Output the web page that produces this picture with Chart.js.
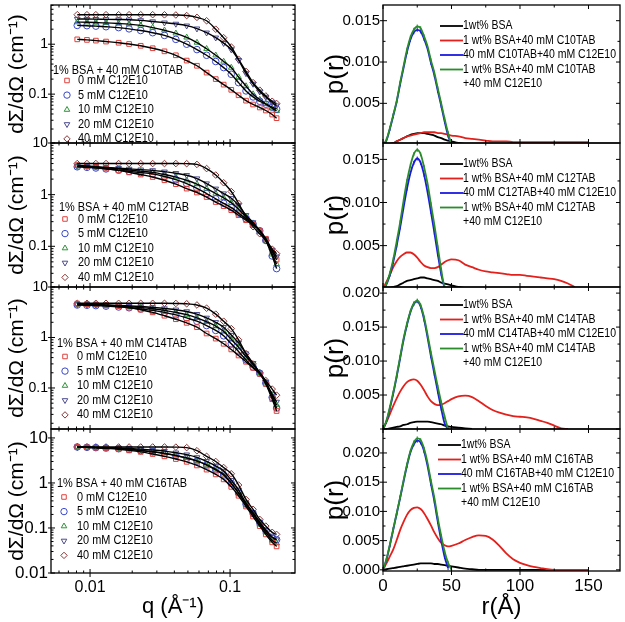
<!DOCTYPE html>
<html>
<head>
<meta charset="utf-8">
<title>SANS curves and p(r)</title>
<script src="https://cdn.jsdelivr.net/npm/chart.js@4.4.0/dist/chart.umd.min.js"></script>
<style>
  body { margin: 0; background: #fff; }
  #wrap { position: relative; width: 625px; height: 622px; overflow: hidden; background: #fff; }
  #wrap canvas { position: absolute; }
</style>
</head>
<body>
<div id="wrap"></div>
<script>
'use strict';

// ***** DATA: SCATTERING CURVES (left column) *****
let qValues = [0.0081, 0.0095, 0.011, 0.013, 0.016, 0.019, 0.023, 0.028, 0.034, 0.041, 0.049, 0.058,
  0.068, 0.079, 0.09, 0.102, 0.115, 0.13, 0.146, 0.163, 0.18, 0.2, 0.215];

let c10_0mM = [1.25, 1.22, 1.18, 1.13, 1.07, 1.01, 0.93, 0.83, 0.72, 0.6, 0.47, 0.37, 0.27, 0.2, 0.155, 0.122, 0.095, 0.074, 0.062, 0.054, 0.047, 0.039, 0.033];
let c10_5mM = [2.38, 2.35, 2.3, 2.24, 2.15, 2.03, 1.88, 1.7, 1.5, 1.25, 1.0, 0.78, 0.6, 0.45, 0.34, 0.25, 0.17, 0.116, 0.088, 0.072, 0.063, 0.055, 0.05];
let c10_10mM = [2.77, 2.75, 2.72, 2.68, 2.6, 2.52, 2.38, 2.15, 1.9, 1.65, 1.37, 1.08, 0.81, 0.6, 0.45, 0.34, 0.22, 0.145, 0.1, 0.078, 0.064, 0.052, 0.046];
let c10_20mM = [3.2, 3.2, 3.18, 3.15, 3.12, 3.1, 3.0, 2.85, 2.7, 2.55, 2.35, 2.05, 1.7, 1.35, 1.05, 0.78, 0.48, 0.26, 0.16, 0.112, 0.088, 0.068, 0.059];
let c10_40mM = [3.9, 3.9, 3.9, 3.9, 3.9, 3.9, 3.9, 3.9, 3.88, 3.85, 3.75, 3.45, 2.95, 2.0, 1.35, 0.88, 0.5, 0.285, 0.17, 0.12, 0.092, 0.072, 0.065];

let c12_0mM = [3.73, 3.6, 3.45, 3.2, 2.95, 2.7, 2.45, 2.2, 1.9, 1.6, 1.31, 1.1, 0.9, 0.72, 0.6, 0.5, 0.4, 0.32, 0.26, 0.2, 0.14, 0.08, 0.055];
let c12_5mM = [3.46, 3.38, 3.28, 3.15, 2.98, 2.82, 2.68, 2.52, 2.25, 1.95, 1.64, 1.33, 1.05, 0.83, 0.68, 0.56, 0.44, 0.34, 0.27, 0.2, 0.13, 0.065, 0.037];
let c12_10mM = [3.56, 3.5, 3.42, 3.3, 3.15, 3.0, 2.85, 2.7, 2.45, 2.18, 1.9, 1.6, 1.31, 1.05, 0.87, 0.7, 0.52, 0.37, 0.28, 0.2, 0.13, 0.07, 0.045];
let c12_20mM = [3.56, 3.52, 3.45, 3.37, 3.25, 3.15, 3.05, 2.95, 2.78, 2.6, 2.38, 2.05, 1.64, 1.3, 1.05, 0.85, 0.62, 0.4, 0.29, 0.2, 0.14, 0.085, 0.063];
let c12_40mM = [4.0, 4.0, 4.0, 4.0, 4.0, 4.0, 4.0, 4.0, 4.0, 4.0, 3.98, 3.85, 3.2, 2.4, 1.7, 1.15, 0.68, 0.37, 0.24, 0.175, 0.13, 0.088, 0.072];

let c14_0mM = [4.7, 4.6, 4.5, 4.35, 4.15, 3.9, 3.55, 3.15, 2.7, 2.3, 1.95, 1.6, 1.2, 0.95, 0.75, 0.58, 0.44, 0.33, 0.25, 0.19, 0.12, 0.06, 0.035];
let c14_5mM = [4.4, 4.35, 4.28, 4.18, 4.02, 3.88, 3.68, 3.45, 3.15, 2.8, 2.44, 2.1, 1.72, 1.38, 1.08, 0.75, 0.53, 0.36, 0.26, 0.195, 0.125, 0.065, 0.04];
let c14_10mM = [4.5, 4.45, 4.4, 4.32, 4.2, 4.05, 3.9, 3.7, 3.45, 3.15, 2.83, 2.45, 2.05, 1.68, 1.32, 0.92, 0.64, 0.42, 0.29, 0.2, 0.13, 0.07, 0.046];
let c14_20mM = [4.5, 4.48, 4.45, 4.4, 4.32, 4.22, 4.1, 3.95, 3.75, 3.55, 3.28, 2.9, 2.45, 2.0, 1.6, 1.12, 0.78, 0.48, 0.31, 0.2, 0.13, 0.075, 0.053];
let c14_40mM = [4.75, 4.75, 4.75, 4.75, 4.75, 4.75, 4.75, 4.75, 4.75, 4.72, 4.65, 4.4, 3.8, 2.9, 2.1, 1.5, 0.9, 0.48, 0.3, 0.2, 0.14, 0.095, 0.072];

let c16_0mM = [6.3, 6.2, 6.05, 5.85, 5.6, 5.3, 4.9, 4.4, 3.9, 3.4, 2.95, 2.45, 1.98, 1.55, 1.2, 0.82, 0.52, 0.3, 0.18, 0.11, 0.072, 0.048, 0.039];
let c16_5mM = [6.3, 6.2, 6.1, 5.98, 5.78, 5.55, 5.25, 4.9, 4.5, 4.05, 3.55, 3.05, 2.5, 1.95, 1.5, 0.98, 0.6, 0.34, 0.21, 0.13, 0.088, 0.062, 0.055];
let c16_10mM = [6.3, 6.2, 6.1, 6.0, 5.8, 5.6, 5.3, 4.95, 4.55, 4.1, 3.6, 3.1, 2.56, 2.0, 1.55, 0.98, 0.6, 0.33, 0.2, 0.12, 0.08, 0.053, 0.046];
let c16_20mM = [6.3, 6.25, 6.2, 6.1, 6.0, 5.85, 5.65, 5.4, 5.1, 4.7, 4.26, 3.7, 3.03, 2.4, 1.85, 1.15, 0.7, 0.36, 0.22, 0.135, 0.09, 0.062, 0.055];
let c16_40mM = [6.3, 6.3, 6.3, 6.3, 6.3, 6.3, 6.3, 6.3, 6.3, 6.25, 6.1, 5.2, 3.9, 3.0, 2.2, 1.6, 0.9, 0.43, 0.26, 0.155, 0.11, 0.08, 0.072];

// ***** DATA: PAIR DISTANCE FUNCTIONS (right column) *****
let rValues = [0, 2.5, 5, 7.5, 10, 12.5, 15, 17.5, 20, 22.5, 25, 27.5, 30, 32.5, 35, 37.5, 40, 42.5, 45, 47.5, 50,
  55, 60, 65, 70, 75, 80, 85, 90, 95, 100, 105, 110, 115, 120, 125, 130, 135, 140, 145, 150];

let bsaC10 = [0, 0, 0.0001, 0.0002, 0.0004, 0.0006, 0.0008, 0.001, 0.0012, 0.0013, 0.0014, 0.0014, 0.0014, 0.0013, 0.0012, 0.0011, 0.0009, 0.0008, 0.0006, 0.0005, 0.0004, 0.0002, 0.0001, 0];
let surfC10 = [0, 0, 0.0001, 0.0002, 0.0004, 0.0006, 0.0008, 0.001, 0.0011, 0.0012, 0.0013, 0.0014, 0.0015, 0.0015, 0.0015, 0.0015, 0.0014, 0.0014, 0.0013, 0.0012, 0.0011,
  0.001, 0.0008, 0.0007, 0.0006, 0.0005, 0.0004, 0.0004, 0.0004, 0.0003, 0.0003, 0.0003, 0.0003, 0.0003, 0.0003, 0.0003, 0.0003, 0.0003, 0.0003, 0.0003, 0.0003];
let mixC10 = [0, 0.0005, 0.0019, 0.0035, 0.0052, 0.0073, 0.0093, 0.0112, 0.0127, 0.0136, 0.0139, 0.0137, 0.0128, 0.0116, 0.0099, 0.0084, 0.0065, 0.0047, 0.0028, 0.0011, 0];
let allC10 = [0, 0.0006, 0.002, 0.0036, 0.0053, 0.0075, 0.0095, 0.0115, 0.013, 0.0139, 0.0143, 0.0141, 0.0131, 0.0119, 0.0102, 0.0087, 0.0068, 0.005, 0.0031, 0.0014, 0];

let bsaC12 = [0, 0, 0.0001, 0.0002, 0.0003, 0.0005, 0.0007, 0.0009, 0.001, 0.0011, 0.0012, 0.0013, 0.0013, 0.0012, 0.0011, 0.001, 0.0009, 0.0007, 0.0006, 0.0005, 0.0004, 0.0002, 0.0001, 0];
let surfC12 = [0, 0.0008, 0.0016, 0.0025, 0.0032, 0.0037, 0.004, 0.0042, 0.0042, 0.004, 0.0036, 0.0031, 0.0027, 0.0025, 0.0024, 0.0024, 0.0025, 0.0028, 0.0031, 0.0033, 0.0034,
  0.0033, 0.0028, 0.0025, 0.0022, 0.002, 0.0019, 0.0018, 0.0017, 0.0016, 0.0016, 0.0015, 0.0014, 0.0013, 0.0012, 0.0011, 0.0009, 0.0006, 0.0002];
let mixC12 = [0, 0.0005, 0.0016, 0.0031, 0.005, 0.0071, 0.0094, 0.0116, 0.0134, 0.0146, 0.0151, 0.0146, 0.0132, 0.0112, 0.0089, 0.0065, 0.004, 0.0017, 0];
let allC12 = [0, 0.0006, 0.0018, 0.0034, 0.0055, 0.0077, 0.0102, 0.0125, 0.0143, 0.0156, 0.0161, 0.0156, 0.0141, 0.0122, 0.0098, 0.0074, 0.0048, 0.0022, 0.0002, 0];

let bsaC14 = [0, 0, 0.0001, 0.0002, 0.0003, 0.0004, 0.0006, 0.0007, 0.0009, 0.001, 0.0011, 0.0011, 0.0011, 0.0011, 0.001, 0.0009, 0.0008, 0.0007, 0.0005, 0.0004, 0.0003, 0.0002, 0.0001, 0];
let surfC14 = [0, 0.001, 0.0022, 0.0034, 0.0045, 0.0055, 0.0063, 0.0069, 0.0072, 0.0073, 0.0071, 0.0065, 0.0057, 0.0048, 0.0041, 0.0037, 0.0035, 0.0036, 0.0038, 0.0041, 0.0044,
  0.0048, 0.0049, 0.0047, 0.0041, 0.0034, 0.0028, 0.0024, 0.0021, 0.0019, 0.0018, 0.0017, 0.0015, 0.0012, 0.0009, 0.0005, 0.0001, 0];
let mixC14 = [0, 0.0011, 0.003, 0.0052, 0.0077, 0.0104, 0.0131, 0.0153, 0.0172, 0.0184, 0.0188, 0.018, 0.0161, 0.0135, 0.0107, 0.0081, 0.0055, 0.003, 0.0008, 0];
let allC14 = [0, 0.0012, 0.0032, 0.0054, 0.0079, 0.0106, 0.0133, 0.0155, 0.0173, 0.0185, 0.0189, 0.0182, 0.0164, 0.0139, 0.0112, 0.0087, 0.0062, 0.0039, 0.0018, 0];

let bsaC16 = [0, 0.0001, 0.0002, 0.0003, 0.0004, 0.0005, 0.0006, 0.0007, 0.0008, 0.0009, 0.001, 0.0011, 0.0011, 0.0011, 0.0011, 0.001, 0.001, 0.0009, 0.0008, 0.0007, 0.0006,
  0.0004, 0.0002, 0.0001, 0, 0, 0, 0, 0, 0, 0, 0, 0, 0, 0, 0, 0, 0, 0, 0, 0];
let surfC16 = [0, 0.0011, 0.0023, 0.0035, 0.0051, 0.0068, 0.0082, 0.0094, 0.0102, 0.0106, 0.0107, 0.0104, 0.0097, 0.0087, 0.0076, 0.0064, 0.0054, 0.0046, 0.0042, 0.004, 0.0041,
  0.0045, 0.0051, 0.0056, 0.0059, 0.0058, 0.0052, 0.0041, 0.0028, 0.0018, 0.0012, 0.0008, 0.0005, 0.0003, 0.0001, 0, 0, 0, 0, 0, 0];
let mixC16 = [0, 0.0017, 0.0042, 0.0069, 0.0096, 0.0123, 0.0151, 0.0178, 0.0201, 0.0215, 0.0221, 0.0218, 0.0203, 0.0178, 0.0147, 0.0117, 0.0082, 0.005, 0.0022, 0.0003];
let allC16 = [0, 0.0018, 0.0043, 0.007, 0.0097, 0.0124, 0.0153, 0.018, 0.0203, 0.0218, 0.0225, 0.0222, 0.0207, 0.0183, 0.0152, 0.0123, 0.0088, 0.0058, 0.0031, 0.0012, 0];

// ***** LABELS / TICKS *****
let surfactants = ['C10TAB', 'C12TAB', 'C14TAB', 'C16TAB'];
let doseLabels = ['0 mM C12E10', '5 mM C12E10', '10 mM C12E10', '20 mM C12E10', '40 mM C12E10'];
let leftTickLabels = [[0.1, 1], [0.1, 1, 10], [0.1, 1, 10], [0.01, 0.1, 1, 10]];
let qTickLabels = [0.01, 0.1, 0.3];
let rightTickLabels = [[0.005, 0.01, 0.015], [0.005, 0.01, 0.015], [0.005, 0.01, 0.015, 0.02], [0, 0.005, 0.01, 0.015, 0.02]];
let rTickLabels = [0, 50, 100, 150];

let leftSeries = [
  [c10_0mM, c10_5mM, c10_10mM, c10_20mM, c10_40mM],
  [c12_0mM, c12_5mM, c12_10mM, c12_20mM, c12_40mM],
  [c14_0mM, c14_5mM, c14_10mM, c14_20mM, c14_40mM],
  [c16_0mM, c16_5mM, c16_10mM, c16_20mM, c16_40mM]
];
let rightSeries = [
  [bsaC10, surfC10, mixC10, allC10],
  [bsaC12, surfC12, mixC12, allC12],
  [bsaC14, surfC14, mixC14, allC14],
  [bsaC16, surfC16, mixC16, allC16]
];

// ***** STYLES / LAYOUT *****
let FONT = '"Liberation Sans", Arial, sans-serif';
let SQUEEZE = 0.84;   // the figure uses a condensed face; squeeze text horizontally
let doseColors = ['#e0403c', '#3a48c8', '#2f9438', '#4a4a8c', '#8c3434'];
let doseMarkers = [
  {style: 'rect', rot: 0}, {style: 'circle', rot: 0}, {style: 'triangle', rot: 0},
  {style: 'triangle', rot: 180}, {style: 'rectRot', rot: 0}
];
let prColors = ['#000000', '#e3201b', '#1a1ae0', '#2a8c2a'];

let leftLayout = [
  {top: 0, height: 153, padTop: 2, padBottom: 10, xHeight: 0, yMin: 0.0105, yMax: 6.1, yFont: 14, legendTop: 65, firstGap: 10.5, titleX: 2, markX: 16, textX: 27},
  {top: 133, height: 164, padTop: 10, padBottom: 10, xHeight: 0, yMin: 0.0163, yMax: 10, yFont: 14, legendTop: 64, firstGap: 12, titleX: 8, markX: 14, textX: 27},
  {top: 277, height: 162, padTop: 10, padBottom: 10, xHeight: 0, yMin: 0.0154, yMax: 10, yFont: 14, legendTop: 56, firstGap: 13.5, titleX: 6, markX: 14, textX: 26},
  {top: 419, height: 203, padTop: 10, padBottom: 0, xHeight: 49, yMin: 0.01, yMax: 15.8, yFont: 17, legendTop: 54, firstGap: 14, titleX: 6, markX: 13, textX: 26}
];
let rightLayout = [
  {top: 0, height: 153, padTop: 1, padBottom: 10, xHeight: 0, yMin: 0.0002, yMax: 0.0169, legendTop: 21, lineX: 57},
  {top: 133, height: 164, padTop: 10, padBottom: 10, xHeight: 0, yMin: 0.0002, yMax: 0.0169, legendTop: 21, lineX: 57},
  {top: 277, height: 162, padTop: 10, padBottom: 10, xHeight: 0, yMin: 0, yMax: 0.0209, legendTop: 18, lineX: 57},
  {top: 419, height: 203, padTop: 10, padBottom: 0, xHeight: 51, yMin: -0.0002, yMax: 0.0241, legendTop: 16, lineX: 55}
];

Chart.defaults.color = '#000';
Chart.defaults.font.family = FONT;

// **** HELPER FUNCTIONS ****
function logMinors(from, to) {
  let out = [];
  for (let d = from; d <= to; d *= 10) {
    for (let k = 2; k <= 9; k++) out.push(+(k * d).toPrecision(3));
  }
  return out;
}

function stepList(a, b, step) {
  let out = [];
  for (let v = a; v <= b + 1e-9; v += step) out.push(+v.toFixed(5));
  return out;
}

function makeCanvas(left, top, w, h) {
  let c = document.createElement('canvas');
  c.width = w;
  c.height = h;
  c.style.left = left + 'px';
  c.style.top = top + 'px';
  c.style.width = w + 'px';
  c.style.height = h + 'px';
  document.getElementById('wrap').appendChild(c);
  return c;
}

function fixedTicks(list) {
  return function(scale) {
    scale.ticks = list.filter(v => v >= scale.min - 1e-12 && v <= scale.max + 1e-12).map(v => ({value: v}));
  };
}

function narrowText(ctx, text, x, y) {
  ctx.save();
  ctx.translate(x, y);
  ctx.scale(SQUEEZE, 1);
  ctx.fillText(text, 0, 0);
  ctx.restore();
}

// frame with inward minor ticks and major ticks crossing the axes
let framePlugin = {
  id: 'frame',
  afterDraw(chart, args, o) {
    let ctx = chart.ctx, a = chart.chartArea, xs = chart.scales.x, ys = chart.scales.y;
    ctx.save();
    ctx.strokeStyle = '#000';
    ctx.lineWidth = 1.3;
    ctx.strokeRect(a.left, a.top, a.right - a.left, a.bottom - a.top);
    ctx.lineWidth = 1;
    ctx.beginPath();
    let vTick = (v, len, out) => {
      let p = xs.getPixelForValue(v);
      if (p < a.left - 0.5 || p > a.right + 0.5) return;
      ctx.moveTo(p, a.bottom + out); ctx.lineTo(p, a.bottom - len);
      ctx.moveTo(p, a.top); ctx.lineTo(p, a.top + len);
    };
    let hTick = (v, len, out) => {
      let p = ys.getPixelForValue(v);
      if (p < a.top - 0.5 || p > a.bottom + 0.5) return;
      ctx.moveTo(a.left - out, p); ctx.lineTo(a.left + len, p);
      ctx.moveTo(a.right, p); ctx.lineTo(a.right - len, p);
    };
    o.xMajor.forEach(v => vTick(v, 4, o.xOut));
    o.xMinor.forEach(v => vTick(v, 2.5, 0));
    o.yMajor.forEach(v => hTick(v, 4, 3));
    o.yMinor.forEach(v => hTick(v, 2.5, 0));
    ctx.stroke();
    ctx.restore();
  }
};

// legend of the left panels: a title line and one marker per dose
let doseLegend = {
  id: 'doseLegend',
  afterDraw(chart, args, o) {
    if (!o.title) return;
    let ctx = chart.ctx, a = chart.chartArea;
    ctx.save();
    ctx.fillStyle = '#000';
    ctx.textBaseline = 'middle';
    ctx.font = '13px ' + FONT;
    narrowText(ctx, o.title, a.left + o.titleX, a.top + o.top);
    doseLabels.forEach((lab, i) => {
      let y = a.top + o.top + o.firstGap + i * 14.6;
      ctx.strokeStyle = doseColors[i];
      ctx.fillStyle = 'rgba(0,0,0,0)';
      ctx.lineWidth = 1;
      Chart.helpers.drawPoint(ctx, {pointStyle: doseMarkers[i].style, rotation: doseMarkers[i].rot, radius: 3.2, borderWidth: 1}, a.left + o.markX, y);
      ctx.fillStyle = '#000';
      narrowText(ctx, lab, a.left + o.textX, y);
    });
    ctx.restore();
  }
};

// legend of the right panels: line samples
let prLegend = {
  id: 'prLegend',
  afterDraw(chart, args, o) {
    if (!o.labels) return;
    let ctx = chart.ctx, a = chart.chartArea;
    ctx.save();
    ctx.textBaseline = 'middle';
    ctx.font = '12.5px ' + FONT;
    o.labels.forEach((lab, i) => {
      let y = a.top + o.top + i * 14.5;
      if (i < prColors.length) {
        ctx.strokeStyle = prColors[i];
        ctx.lineWidth = 1.8;
        ctx.beginPath();
        ctx.moveTo(a.left + o.lineX, y);
        ctx.lineTo(a.left + o.lineX + 23, y);
        ctx.stroke();
      }
      ctx.fillStyle = '#000';
      narrowText(ctx, lab, a.left + o.lineX + 23, y);
    });
    ctx.restore();
  }
};

// **** LEFT COLUMN: dΣ/dΩ versus q ****
function renderLeft(k) {
  let L = leftLayout[k];
  let last = k === leftLayout.length - 1;
  let canvas = makeCanvas(0, L.top, 300, L.height);
  let datasets = [];
  leftSeries[k].forEach((vals, i) => {
    let pts = qValues.map((q, j) => ({x: q, y: vals[j]}));
    datasets.push({
      label: doseLabels[i], data: pts, showLine: false, order: 1,
      pointStyle: doseMarkers[i].style, rotation: doseMarkers[i].rot, pointRadius: 3.3,
      pointBorderWidth: 1, borderColor: doseColors[i], backgroundColor: 'rgba(0,0,0,0)'
    });
    datasets.push({
      label: 'fit', data: pts, order: 0, borderColor: '#000', borderWidth: 1.4,
      pointRadius: 0, cubicInterpolationMode: 'monotone', fill: false
    });
  });

  new Chart(canvas, {
    type: 'line',
    data: {datasets: datasets},
    options: {
      responsive: false,
      animation: false,
      layout: {padding: {left: 0, right: 5, top: L.padTop, bottom: L.padBottom}},
      plugins: {
        legend: {display: false},
        tooltip: {enabled: false},
        frame: {xMajor: [0.01, 0.1], xMinor: logMinors(0.001, 0.1), yMajor: [0.01, 0.1, 1, 10], yMinor: logMinors(0.001, 10), xOut: last ? 4 : 0},
        doseLegend: {title: '1% BSA + 40 mM ' + surfactants[k], top: L.legendTop, firstGap: L.firstGap, titleX: L.titleX, markX: L.markX, textX: L.textX}
      },
      scales: {
        x: {
          type: 'logarithmic', min: 0.00526, max: 0.291,
          grid: {display: false, drawTicks: false}, border: {display: false},
          afterBuildTicks: fixedTicks(qTickLabels),
          ticks: {display: last, autoSkip: false, maxRotation: 0, padding: 5, font: {size: 16}, callback: v => String(v)},
          title: {display: last, text: 'q (Å⁻¹)', font: {size: 22}, padding: {top: 0, bottom: 2}},
          afterFit: s => { s.height = L.xHeight; s.paddingLeft = 0; s.paddingRight = 0; }
        },
        y: {
          type: 'logarithmic', min: L.yMin, max: L.yMax,
          grid: {display: false, drawTicks: false}, border: {display: false},
          afterBuildTicks: fixedTicks(leftTickLabels[k]),
          ticks: {autoSkip: false, padding: 3, font: {size: L.yFont}, callback: v => String(v)},
          title: {display: true, text: 'dΣ/dΩ (cm⁻¹)', font: {size: 21}, padding: {top: 5, bottom: 0}},
          afterFit: s => { s.width = 51; s.paddingTop = 0; s.paddingBottom = 0; }
        }
      }
    },
    plugins: [framePlugin, doseLegend]
  });
}

// **** RIGHT COLUMN: p(r) ****
function renderRight(k) {
  let L = rightLayout[k];
  let last = k === rightLayout.length - 1;
  let canvas = makeCanvas(320, L.top, 305, L.height);
  let s = surfactants[k];
  let labels = ['1wt% BSA', '1 wt% BSA+40 mM ' + s, '40 mM ' + s + '+40 mM C12E10', '1 wt% BSA+40 mM ' + s, '+40 mM C12E10'];
  let drawOrder = [3, 2, 1, 0];
  let datasets = rightSeries[k].map((vals, i) => ({
    label: labels[i],
    data: vals.map((v, j) => ({x: rValues[j], y: v})),
    order: drawOrder[i],
    borderColor: prColors[i], borderWidth: 1.8,
    cubicInterpolationMode: 'monotone', fill: false,
    pointStyle: 'line', rotation: 90, pointRadius: i >= 2 ? 2 : 0,
    pointBorderColor: prColors[i], pointBorderWidth: 1
  }));

  new Chart(canvas, {
    type: 'line',
    data: {datasets: datasets},
    options: {
      responsive: false,
      animation: false,
      layout: {padding: {left: 0, right: 3, top: L.padTop, bottom: L.padBottom}},
      plugins: {
        legend: {display: false},
        tooltip: {enabled: false},
        frame: {xMajor: rTickLabels, xMinor: [25, 75, 125, 175], yMajor: stepList(0, 0.025, 0.005), yMinor: stepList(0.0025, 0.025, 0.005), xOut: last ? 4 : 0},
        prLegend: {labels: labels, top: L.legendTop, lineX: L.lineX}
      },
      scales: {
        x: {
          type: 'linear', min: 0, max: 173,
          grid: {display: false, drawTicks: false}, border: {display: false},
          afterBuildTicks: fixedTicks(rTickLabels),
          ticks: {display: last, autoSkip: false, maxRotation: 0, padding: 5, font: {size: 17}},
          title: {display: last, text: 'r(Å)', font: {size: 24}, padding: {top: 0, bottom: 0}},
          afterFit: s2 => { s2.height = L.xHeight; s2.paddingLeft = 0; s2.paddingRight = 0; }
        },
        y: {
          type: 'linear', min: L.yMin, max: L.yMax,
          grid: {display: false, drawTicks: false}, border: {display: false},
          afterBuildTicks: fixedTicks(rightTickLabels[k]),
          ticks: {autoSkip: false, padding: 3, font: {size: 15}, callback: v => v.toFixed(3)},
          title: {display: true, text: 'p(r)', font: {size: 26}, padding: {top: 0, bottom: 0}},
          afterFit: s2 => { s2.width = 63; s2.paddingTop = 0; s2.paddingBottom = 0; }
        }
      }
    },
    plugins: [framePlugin, prLegend]
  });
}

// **** EXECUTABLE CODE ****
for (let k = 0; k < 4; k++) {
  renderLeft(k);
  renderRight(k);
}
</script>
</body>
</html>
